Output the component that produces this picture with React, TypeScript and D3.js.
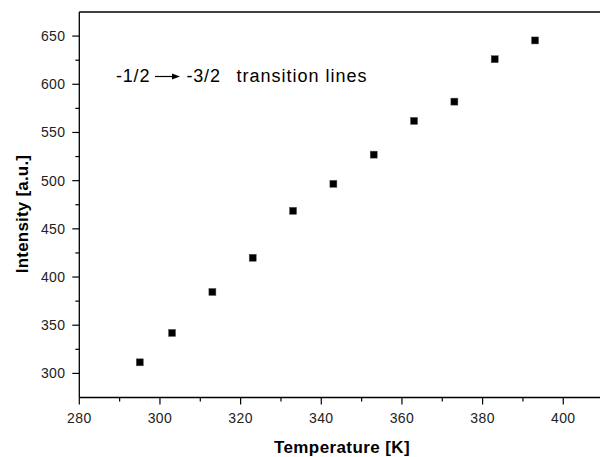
import React, { useEffect } from "react";
import * as d3 from "d3";

const temperatures = [295, 303, 313, 323, 333, 343, 353, 363, 373, 383, 393];
const intensities = [311.5, 342, 384.5, 420, 468.7, 496.7, 527, 562, 582, 626, 645.5];
const xMajorTicks = [280, 300, 320, 340, 360, 380, 400];
const xMinorTicks = [290, 310, 330, 350, 370, 390];
const yMajorTicks = [300, 350, 400, 450, 500, 550, 600, 650];
const yMinorTicks = [325, 375, 425, 475, 525, 575, 625];

const W = 600;
const H = 457;
const FONT = "'Liberation Sans', Arial, sans-serif";

export default function App() {
  useEffect(() => {
    document.body.style.margin = "0";
  }, []);

  const x = d3.scaleLinear().domain([280, 410]).range([79.3, 603.6]);
  const y = d3.scaleLinear().domain([275, 675]).range([397.5, 12]);
  const x0 = x(280);
  const y0 = y(275);
  const yTop = y(675);
  const xRight = x(410);

  const data = temperatures.map((t, i) => ({ t, v: intensities[i] }));
  const ms = 7;

  return (
    <svg
      width={W}
      height={H}
      style={{ position: "absolute", left: 0, top: 0, background: "#fff" }}
      fontFamily={FONT}
    >
      <rect x={0} y={0} width={W} height={H} fill="#fff" />
      {/* frame */}
      <line x1={x0} y1={yTop} x2={xRight} y2={yTop} stroke="#000" strokeWidth={1.3} />
      <line x1={xRight} y1={yTop} x2={xRight} y2={y0} stroke="#000" strokeWidth={1.3} />
      <line x1={x0} y1={yTop} x2={x0} y2={y0} stroke="#000" strokeWidth={1.3} />
      <line x1={x0} y1={y0} x2={xRight} y2={y0} stroke="#000" strokeWidth={1.3} />

      {/* x ticks */}
      {xMajorTicks.map((t) => (
        <g key={"xm" + t}>
          <line x1={x(t)} x2={x(t)} y1={y0} y2={y0 + 7} stroke="#000" strokeWidth={1.2} />
          <text x={x(t)} y={423} textAnchor="middle" fontSize={14} fill="#222" letterSpacing={0.4}>
            {t}
          </text>
        </g>
      ))}
      {xMinorTicks.map((t) => (
        <line key={"xn" + t} x1={x(t)} x2={x(t)} y1={y0} y2={y0 + 4} stroke="#000" strokeWidth={1.2} />
      ))}

      {/* y ticks */}
      {yMajorTicks.map((v) => (
        <g key={"ym" + v}>
          <line x1={x0 - 7} x2={x0} y1={y(v)} y2={y(v)} stroke="#000" strokeWidth={1.2} />
          <text x={65.5} y={y(v) + 5} textAnchor="end" fontSize={14} fill="#222" letterSpacing={0.4}>
            {v}
          </text>
        </g>
      ))}
      {yMinorTicks.map((v) => (
        <line key={"yn" + v} x1={x0 - 4} x2={x0} y1={y(v)} y2={y(v)} stroke="#000" strokeWidth={1.2} />
      ))}

      {/* axis titles */}
      <text x={342} y={453} textAnchor="middle" fontSize={17} fontWeight="bold" letterSpacing={0.4}>
        Temperature [K]
      </text>
      <text
        transform={`translate(27.5, 214) rotate(-90)`}
        textAnchor="middle"
        fontSize={17}
        fontWeight="bold"
        letterSpacing={0.2}
      >
        Intensity [a.u.]
      </text>

      {/* annotation */}
      <text x={116} y={82} fontSize={18} letterSpacing={0.8}>-1/2</text>
      <line x1={155} y1={76.5} x2={175} y2={76.5} stroke="#000" strokeWidth={1.2} />
      <path d="M172,73.5 L180,76.5 L172,79.5 Z" fill="#000" />
      <text x={186.5} y={82} fontSize={18} letterSpacing={0.8}>-3/2</text>
      <text x={236.5} y={82} fontSize={18} letterSpacing={1}>transition lines</text>

      {/* points */}
      {data.map((d, i) => (
        <rect
          key={i}
          x={x(d.t) - ms / 2}
          y={y(d.v) - ms / 2}
          width={ms}
          height={ms}
          fill="#000"
          stroke="#555"
          strokeWidth={0.5}
        />
      ))}
    </svg>
  );
}
